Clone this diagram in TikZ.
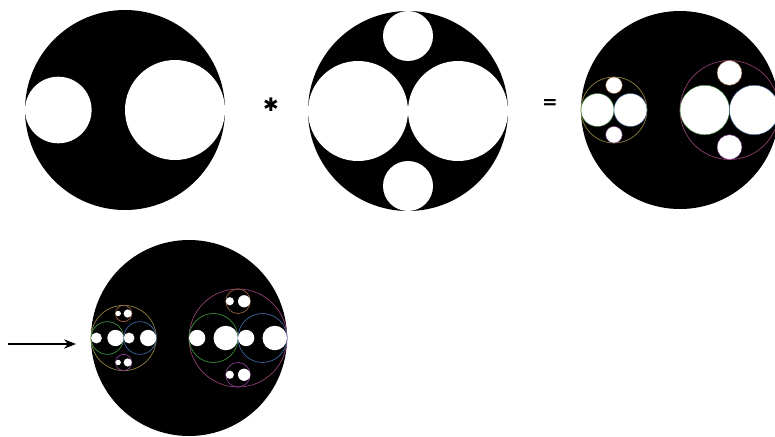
\documentclass[tikz,border=0pt]{standalone}
\usepackage{amsmath, amssymb}
\usepackage{xcolor}
\usepackage{fontspec}
\usepackage{tikz}
\usetikzlibrary{arrows.meta}

\newfontfamily\signfont{DejaVu Sans}

% colours of the thin rings
\definecolor{ringolive}{RGB}{140,125,60}
\definecolor{ringmaroon}{RGB}{140,60,110}
\definecolor{ringgreen}{RGB}{60,140,60}
\definecolor{ringblue}{RGB}{60,100,160}
\definecolor{ringbrown}{RGB}{150,95,60}
\definecolor{ringpurple}{RGB}{125,60,140}

% holes as x/y offset, radius (parts of the outer radius), ring colour
\newcommand{\holesA}{-0.667/0/0.333/ringolive, 0.5/0/0.5/ringmaroon}
\newcommand{\holesB}{-0.5/0/0.5/ringgreen, 0.5/0/0.5/ringblue, 0/-0.75/0.25/ringbrown, 0/0.75/0.25/ringpurple}

\tikzset{
  ring/.style={line width=0.55pt},
  fringe/.style={line width=0.3pt},
  opsign/.style={font=\signfont\bfseries\fontsize{14}{14}\selectfont, inner sep=0pt}
}

\begin{document}
\begin{tikzpicture}[x=0.75pt, y=-0.75pt]
        \clip (0,0) rectangle (775,436);
        \fill[white] (0,0) rectangle (775,436);

        % First disk
        \fill[black] (125,110) circle (100);
        \foreach \ox/\oy/\rr/\cc in \holesA {
            \fill[white] ({125+\ox*100},{110+\oy*100}) circle ({\rr*100});
        }

        \node[opsign] (times) at (271,105) {✱};

        % Second disk
        \fill[black] (408,111) circle (100);
        \foreach \ox/\oy/\rr/\cc in \holesB {
            \fill[white] ({408+\ox*100},{111+\oy*100}) circle ({\rr*100});
        }

        \node[opsign] (equals) at (550,104) {=};

        % Result: second disk put into every hole of the first
        \fill[black] (680,110) circle (99);
        \foreach \ox/\oy/\rr/\cc in \holesA {
            \pgfmathsetmacro\gx{680+\ox*99}
            \pgfmathsetmacro\gy{110+\oy*99}
            \pgfmathsetmacro\gr{\rr*99}
            \draw[ring, \cc] (\gx,\gy) circle (\gr);
            \foreach \px/\py/\ss/\dd in \holesB {
                \filldraw[white, draw=\dd, fringe] ({\gx+\px*\gr},{\gy+\py*\gr}) circle ({\ss*\gr});
            }
        }

        % Next step: first disk put into every hole of the result
        \fill[black] (189,338) circle (98);
        \foreach \ox/\oy/\rr/\cc in \holesA {
            \pgfmathsetmacro\gx{189+\ox*98}
            \pgfmathsetmacro\gy{338+\oy*98}
            \pgfmathsetmacro\gr{\rr*98}
            \draw[ring, \cc] (\gx,\gy) circle (\gr);
            \foreach \px/\py/\ss/\dd in \holesB {
                \pgfmathsetmacro\hx{\gx+\px*\gr}
                \pgfmathsetmacro\hy{\gy+\py*\gr}
                \pgfmathsetmacro\hr{\ss*\gr}
                \draw[ring, \dd] (\hx,\hy) circle (\hr);
                \foreach \ux/\uy/\tt/\ee in \holesA {
                    \fill[white] ({\hx+\ux*\hr},{\hy+\uy*\hr}) circle ({\tt*\hr});
                }
            }
        }

        % Arrow
        \coordinate (from) at (8,344);
        \coordinate (to) at (76,344);
        \draw[-{Stealth[length=9pt, width=7pt]}, line width=0.9pt] (from) -- (to);
\end{tikzpicture}
\end{document}
